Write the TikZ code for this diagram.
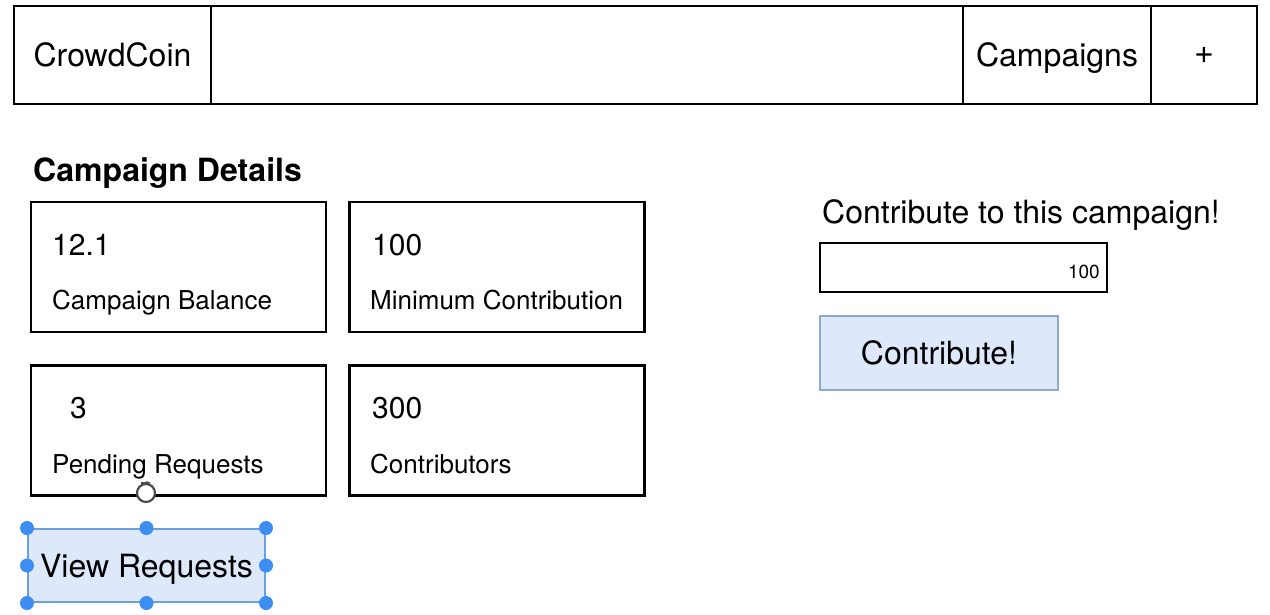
\documentclass[tikz,border=0pt]{standalone}
\usepackage{fontspec}
\setmainfont{TeX Gyre Heros}
\usetikzlibrary{arrows.meta}

\definecolor{btnfill}{HTML}{DDE8FB}
\definecolor{btnline}{HTML}{8FA8CF}
\definecolor{selline}{HTML}{6A9FE0}
\definecolor{handle}{HTML}{3D8EF2}

\begin{document}
\begin{tikzpicture}[x=1pt,y=-1pt,
  cell/.style={draw, line width=2.5pt, minimum height=98pt, inner sep=0pt, text depth=0pt},
  stat/.style={draw, line width=2.5pt, minimum width=295pt, minimum height=130pt},
  big/.style={font=\fontsize{32}{38}\selectfont},
  value/.style={anchor=base west, inner sep=0pt, font=\fontsize{30}{36}\selectfont},
  caption/.style={anchor=base west, inner sep=0pt, font=\fontsize{26}{31}\selectfont},
  button/.style={draw=btnline, fill=btnfill, line width=2pt, big, text depth=0pt}]
\useasboundingbox (0,0) rectangle (1270,614);
%%% top menu bar
\node[cell, big, minimum width=197pt] (brand) at (112.5,55) {CrowdCoin};
\node[cell, minimum width=752pt] (blank) at (587,55) {};
\node[cell, big, minimum width=188pt] (camps) at (1057,55) {Campaigns};
\node[cell, font=\fontsize{34}{40}\selectfont, minimum width=106pt] (plus) at (1204,55) {+};
%%% details of the campaign
\node[anchor=base west, inner sep=0pt, font=\fontsize{32}{38}\bfseries\selectfont] (head) at (33,181) {Campaign Details};
\node[stat] (bal) at (178.5,267) {};
\node[stat] (minc) at (497,267) {};
\node[stat] (pend) at (178.5,430.5) {};
\node[stat] (contr) at (497,430.5) {};
\node[value] (balv) at (52,255) {12.1};
\node[caption] (ball) at (52,309) {Campaign Balance};
\node[value] (mincv) at (372,255) {100};
\node[caption] (mincl) at (370,309) {Minimum Contribution};
\node[value] (pendv) at (70,418) {3};
\node[caption] (pendl) at (52,473) {Pending Requests};
\node[value] (contrv) at (372,418) {300};
\node[caption] (contrl) at (370,473) {Contributors};
%%% contribute form
\node[anchor=base west, inner sep=0pt, big] (form) at (822,223) {Contribute to this campaign!};
\node[draw, line width=2.5pt, minimum width=287pt, minimum height=49pt] (amount) at (963.5,267.5) {};
\node[anchor=base east, inner sep=0pt, font=\fontsize{19}{23}\selectfont] (amountv) at (1100,278) {100};
\node[button, minimum width=238pt, minimum height=74pt] (give) at (939,353) {Contribute!};
%%% selected button with its handles
\node[button, draw=selline, minimum width=237pt, minimum height=73pt] (view) at (146.5,565.5) {View Requests};
\foreach \a in {north west,north,north east,west,east,south west,south,south east}
  \fill[handle] (view.\a) circle (7pt);
\node[circle, draw=black!70, fill=white, line width=2.2pt, minimum size=18pt, inner sep=0pt] (rot) at (146,493) {};
\draw[black!70, line width=1.6pt, -{Stealth[length=5pt]}] ([xshift=-5pt]rot.north) -- ([xshift=5pt]rot.north);
\end{tikzpicture}
\end{document}
